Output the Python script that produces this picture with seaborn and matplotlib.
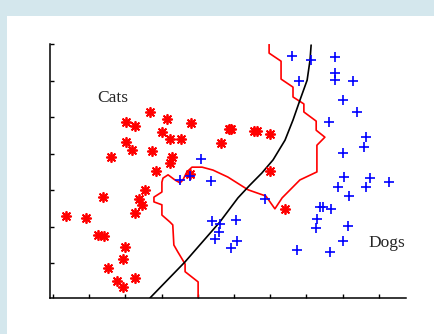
import numpy as np
import pandas as pd
import matplotlib.pyplot as plt
from matplotlib.patches import Rectangle
import seaborn as sns

# cats (red asterisks)
cat_x = [2.68, 2.02, 2.27, 3.15, 3.81, 3.01, 3.23, 3.54, 2.02, 2.18, 2.73, 1.60, 3.29,
         3.23, 4.86, 4.92, 4.64, 5.55, 5.64, 5.99, 5.99, 2.85, 3.78, 2.54, 2.38, 2.46,
         2.27, 1.38, 6.41, 0.36, 0.91, 1.24, 1.41, 1.99, 1.93, 1.52, 2.27, 1.77, 1.93]
cat_y = [5.14, 4.86, 4.75, 4.95, 4.84, 4.59, 4.40, 4.40, 4.32, 4.10, 4.07, 3.91, 3.91,
         3.74, 4.67, 4.67, 4.29, 4.62, 4.62, 4.54, 3.52, 3.52, 3.44, 3.01, 2.76, 2.60,
         2.38, 2.81, 2.49, 2.30, 2.24, 1.78, 1.75, 1.45, 1.12, 0.87, 0.60, 0.52, 0.36]

# dogs (blue plus)
dog_x = [6.60, 7.13, 7.79, 7.79, 7.79, 6.80, 8.29, 8.01, 8.40, 7.62, 8.65, 8.59, 8.01,
         8.04, 7.87, 8.76, 8.65, 9.28, 8.18, 5.86, 7.38, 7.46, 7.68, 7.29, 7.27, 8.15,
         8.01, 5.06, 4.61, 4.39, 4.59, 4.48, 5.08, 4.92, 6.74, 7.65, 4.09, 3.51, 3.78, 4.36]
dog_y = [6.67, 6.56, 6.64, 6.20, 6.01, 5.98, 5.98, 5.46, 5.14, 4.86, 4.45, 4.18, 4.02,
         3.36, 3.09, 3.33, 3.09, 3.22, 2.84, 2.76, 2.54, 2.54, 2.49, 2.21, 1.97, 2.02,
         1.61, 2.19, 2.08, 2.16, 1.86, 1.67, 1.61, 1.42, 1.37, 1.31, 3.85, 3.28, 3.39, 3.25]

# smooth decision boundary (black)
curve_x = [2.68, 3.65, 4.61, 5.11, 5.44, 5.77, 6.08, 6.41, 6.63, 6.82, 7.02, 7.10, 7.13]
curve_y = [0.05, 1.04, 2.13, 2.79, 3.14, 3.47, 3.83, 4.37, 4.92, 5.46, 6.01, 6.56, 6.97]

# jagged boundary (red)
edge_x = [5.97, 5.97, 6.30, 6.30, 6.63, 6.63, 6.93, 6.93, 7.27, 7.27, 7.51, 7.29, 7.29,
          6.82, 6.33, 6.13, 5.88, 5.39, 4.83, 4.42, 4.12, 3.84, 3.70, 3.59, 3.51, 3.37,
          3.18, 3.04, 3.01, 3.01, 2.79, 2.79, 3.01, 3.01, 3.23, 3.31, 3.34, 3.45, 3.65,
          3.65, 4.01, 4.01]
edge_y = [6.99, 6.75, 6.53, 6.04, 5.82, 5.55, 5.36, 5.14, 4.89, 4.64, 4.45, 4.23, 3.50,
          3.28, 2.79, 2.49, 2.84, 3.01, 3.36, 3.55, 3.63, 3.63, 3.50, 3.28, 3.20, 3.28,
          3.42, 3.33, 3.22, 2.95, 2.81, 2.68, 2.60, 2.32, 2.13, 2.05, 1.50, 1.31, 0.98,
          0.77, 0.49, 0.05]

cats = pd.DataFrame({"x": cat_x, "y": cat_y})
dogs = pd.DataFrame({"x": dog_x, "y": dog_y})
curve = pd.DataFrame({"x": curve_x, "y": curve_y})
edge = pd.DataFrame({"x": edge_x, "y": edge_y})

sns.set_style("white")

fig = plt.figure(figsize=(4.35, 3.34), dpi=100)
fig.patch.set_facecolor("#d4e7ed")
fig.patches.append(Rectangle((7 / 435, 0), 1, 318 / 334, transform=fig.transFigure,
                             facecolor="white", edgecolor="none", zorder=-10))
ax = fig.add_axes([50 / 435, 36 / 334, 356 / 435, 254 / 334])
ax.set_facecolor("none")

sns.lineplot(data=edge, x="x", y="y", sort=False, estimator=None, color="#ff0000",
             linewidth=1.2, ax=ax)
sns.lineplot(data=curve, x="x", y="y", sort=False, estimator=None, color="black",
             linewidth=1.2, ax=ax)
sns.scatterplot(data=cats, x="x", y="y", marker=(8, 2, 0), s=45, color="#ff0000",
                linewidth=1.3, ax=ax, zorder=3)
sns.scatterplot(data=dogs, x="x", y="y", marker="+", s=60, color="#0000ff",
                linewidth=1.2, ax=ax, zorder=3)

ax.text(1.22, 5.52, "Cats", fontsize=12.5, family="Liberation Serif", ha="left", va="center")
ax.text(8.70, 1.56, "Dogs", fontsize=12.5, family="Liberation Serif", ha="left", va="center")

ax.set_xlim(-0.08, 9.75)
ax.set_ylim(0.05, 7.0)
ax.set_xticks(range(0, 10))
ax.set_yticks(range(1, 8))
ax.set_xticklabels([])
ax.set_yticklabels([])
ax.set_xlabel("")
ax.set_ylabel("")
ax.tick_params(direction="in", length=3, width=1, color="black",
               bottom=True, left=True)
sns.despine(ax=ax)
for side in ["left", "bottom"]:
    ax.spines[side].set_color("black")
    ax.spines[side].set_linewidth(1.1)

fig.savefig("out.png", dpi=100)
